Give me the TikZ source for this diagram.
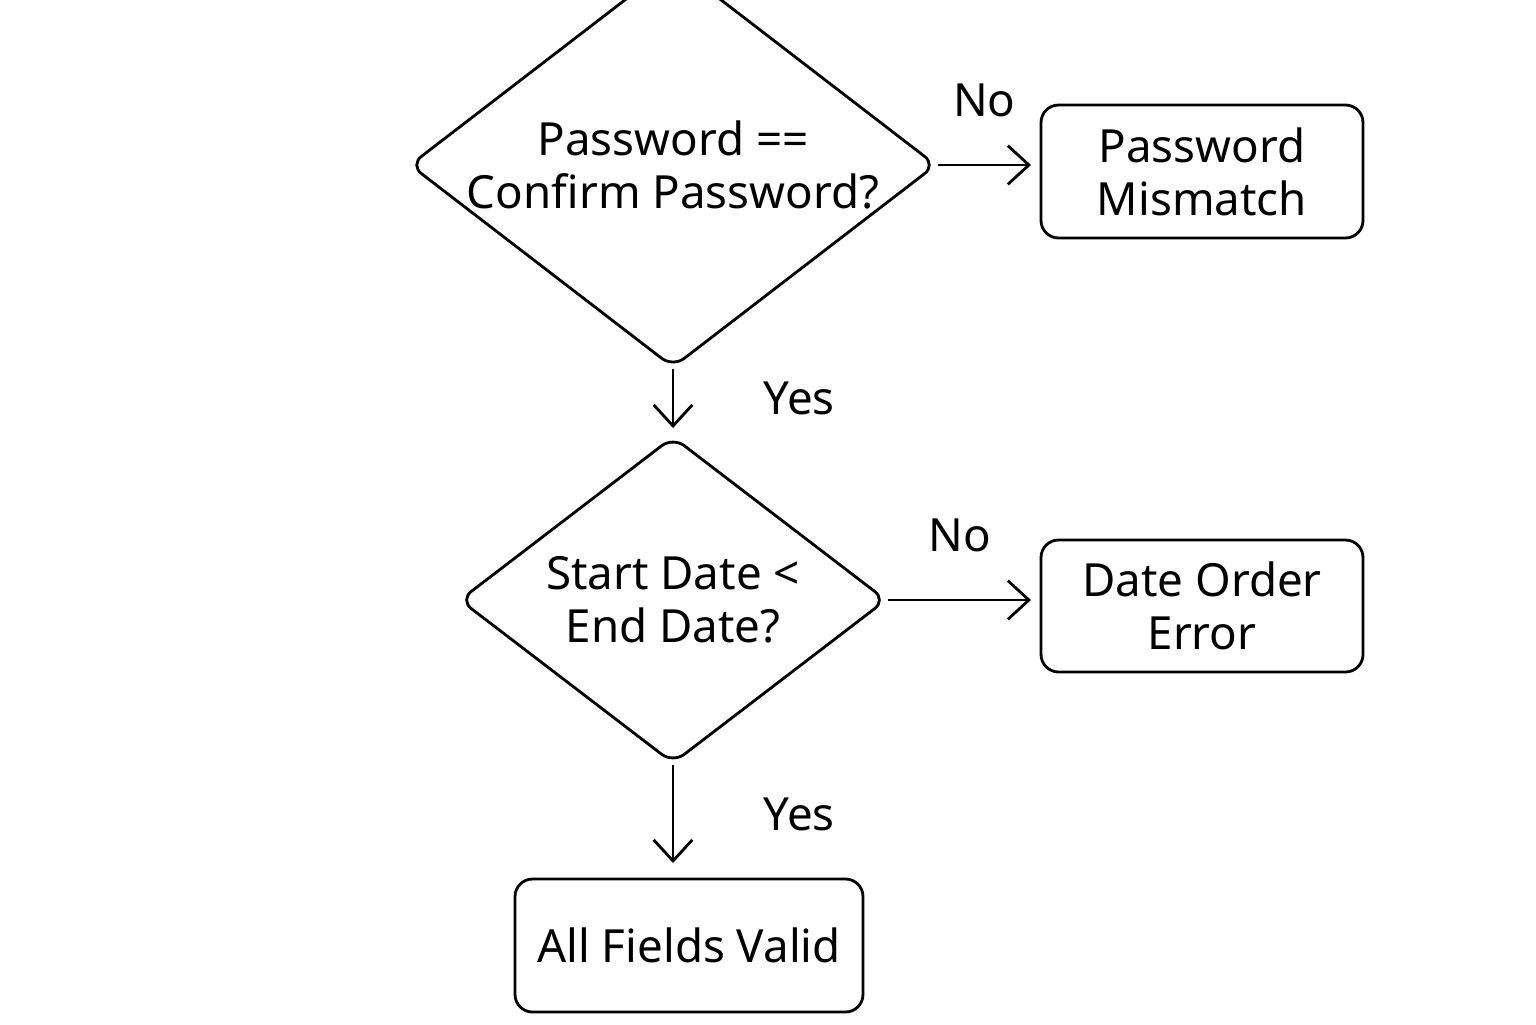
\documentclass[tikz,border=0pt]{standalone}
\usepackage{fontspec}
\setmainfont{Noto Sans}
\usetikzlibrary{shapes.geometric}
\begin{document}
\begin{tikzpicture}[
          link/.style={->,thick,>={Straight Barb[length=6pt,width=11pt]}},
          decision/.style={diamond,draw,thick,rounded corners=4pt,aspect=1.3,
            minimum width=4.27cm,minimum height=3.27cm,inner sep=0pt,align=center,font=\fontsize{13pt}{15pt}\selectfont},
          box/.style={draw,thick,rounded corners=5pt,align=center,font=\fontsize{13pt}{15pt}\selectfont},
        ]
        \useasboundingbox (0, 0) rectangle (15.36, -10.24);
        \usetikzlibrary{arrows.meta}

        \node[decision] (pwd) at (6.73, -1.65) {Password ==\\Confirm Password?};
        \node[decision] (date) at (6.73, -6.00) {Start Date <\\End Date?};

        \node[box,minimum width=3.22cm,minimum height=1.33cm] (mismatch) at (12.02, -1.715) {Password\\Mismatch};
        \node[box,minimum width=3.22cm,minimum height=1.32cm] (order) at (12.02, -6.06) {Date Order\\Error};
        \node[box,minimum width=3.48cm,minimum height=1.33cm] (valid) at (6.89, -9.455) {All Fields Valid};

        \draw[link] (pwd.east) -- (10.31, -1.65) node[midway,above=10pt,font=\fontsize{13pt}{15pt}\selectfont] {No};
        \draw[link] (date.east) -- (10.31, -6.00) node[midway,above=10pt,font=\fontsize{13pt}{15pt}\selectfont] {No};
        \draw[link] (pwd.south) -- (6.73, -4.28) node[midway,right=22pt,font=\fontsize{13pt}{15pt}\selectfont] {Yes};
        \draw[link] (date.south) -- (6.73, -8.63) node[midway,right=22pt,font=\fontsize{13pt}{15pt}\selectfont] {Yes};

      \end{tikzpicture}
\end{document}
